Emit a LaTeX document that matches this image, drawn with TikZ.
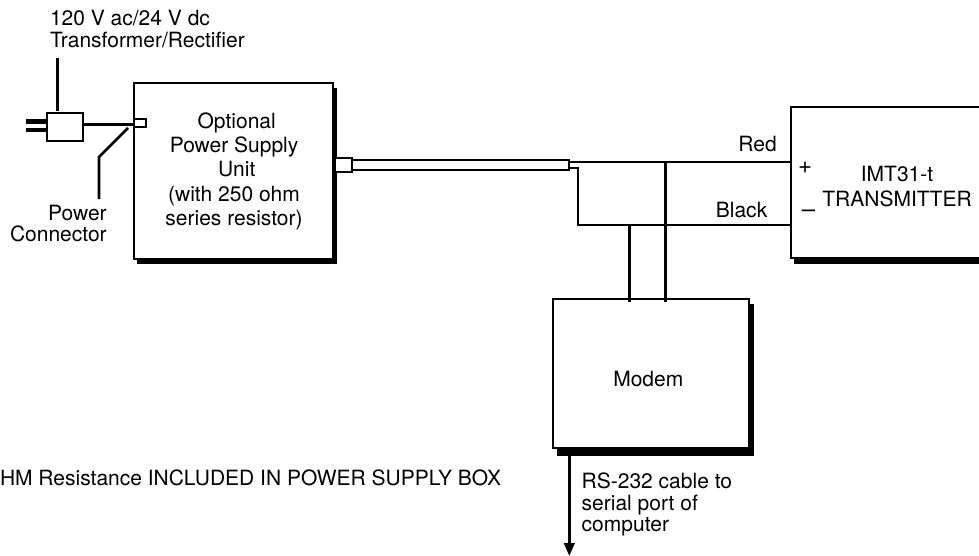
\documentclass[tikz,border=0pt]{standalone}
\usepackage{fontspec}
\setmainfont{TeX Gyre Heros}
\usetikzlibrary{arrows.meta}
\tikzset{
 txt/.style={inner sep=0pt,outer sep=0pt,font=\fontsize{21}{22}\selectfont,align=center},
 boxw/.style={draw=black,fill=white,line width=2pt,inner sep=0pt,minimum width=#1},
 wire/.style={draw=black,line width=1.9pt},
 lead/.style={draw=black,line width=2.7pt},
 prong/.style={draw=black,line width=4.7pt}
}
\begin{document}
\begin{tikzpicture}[x=1pt,y=-1pt]
\useasboundingbox (0,0) rectangle (979,556);
% shadows
\fill[black] (137,88) rectangle (337,264);
\fill[black] (794,112) rectangle (990,263.5);
\fill[black] (557,304) rectangle (754,456);
% boxes
\node[boxw=199pt,minimum height=176pt] (psu) at (233.5,171) {};
\node[boxw=200pt,minimum height=151pt] (imt) at (890.7,182.2) {};
\node[boxw=196pt,minimum height=149pt] (modem) at (650.8,373.5) {};
% plug
\node[boxw=36pt,minimum height=28pt] (plug) at (64.8,127) {};
\coordinate (p1) at (26,121.5); \coordinate (p1e) at (46.7,121.5);
\coordinate (p2) at (26,130); \coordinate (p2e) at (46.7,130);
\draw[prong] (p1) -- (p1e);
\draw[prong] (p2) -- (p2e);
\node[boxw=12pt,minimum height=8pt] (jack) at (140.3,122.7) {};
\coordinate (wireend) at (134,124.5);
\draw[lead,line width=3pt] (plug.east |- wireend) -- (wireend);
\coordinate (tlab) at (57.5,58); \coordinate (tend) at (57.5,111);
\draw[lead] (tlab) -- (tend);
\coordinate (c1) at (128,128); \coordinate (c2) at (99,157); \coordinate (c3) at (99,199);
\draw[lead] (c1) -- (c2) -- (c3);
% cable
\node[boxw=17pt,minimum height=14pt] (conn) at (343.5,164.8) {};
\node[boxw=217pt,minimum height=10pt] (cable) at (460.5,165) {};
% wires
\coordinate (redl) at (569,161.7); \coordinate (blackl) at (569,167.7);
\coordinate (corner) at (578.3,225);
\coordinate (redr) at (790.7,161.7); \coordinate (blackr) at (790.7,225);
\draw[wire] (redl) -- (redr);
\draw[wire] (blackl) -| (corner) -- (blackr);
\coordinate (ja) at (629.3,225); \coordinate (jb) at (665.3,161.7);
\coordinate (ma) at (629.3,301.7); \coordinate (mb) at (665.3,301.7);
\draw[lead] (ja) -- (ma);
\draw[lead] (jb) -- (mb);
% arrow
\coordinate (as) at (569.3,456); \coordinate (ae) at (569.3,556);
\draw[lead,-{Triangle[length=13pt,width=10.5pt]}] (as) -- (ae);
% text
\node[txt,anchor=base west,align=left] (t1) at (50,26) {120 V ac/24 V dc};
\node[txt,anchor=base west,align=left] (t2) at (50,47.7) {Transformer/Rectifier};
\node[txt,anchor=base east] (t3) at (106.7,220) {Power};
\node[txt,anchor=base east] (t4) at (106.7,241.7) {Connector};
\node[txt,anchor=base] (o1) at (236.7,129) {Optional};
\node[txt,anchor=base] (o2) at (234,152.7) {Power Supply};
\node[txt,anchor=base] (o3) at (236.7,177) {Unit};
\node[txt,anchor=base] (o4) at (234,201) {(with 250 ohm};
\node[txt,anchor=base] (o5) at (234,225) {series resistor)};
\node[txt,anchor=base east] (red) at (776.7,152) {Red};
\node[txt,anchor=base east] (black) at (767.3,217.7) {Black};
\node[txt,anchor=center,font=\fontsize{24}{24}\selectfont] (plus) at (805,168) {+};
\node[txt,anchor=center,font=\fontsize{24}{24}\selectfont] (minus) at (808.5,214) {–};
\node[txt,anchor=base] (i1) at (897,181.7) {IMT31-t};
\node[txt,anchor=base] (i2) at (897,206.7) {TRANSMITTER};
\node[txt,anchor=base] (m) at (648.3,386) {Modem};
\node[txt,anchor=base west] (hm) at (0,485) {HM Resistance INCLUDED IN POWER SUPPLY BOX};
\node[txt,anchor=base west] (r1) at (581.7,488) {RS-232 cable to};
\node[txt,anchor=base west] (r2) at (581.7,510) {serial port of};
\node[txt,anchor=base west] (r3) at (581.7,531.7) {computer};
\end{tikzpicture}
\end{document}
